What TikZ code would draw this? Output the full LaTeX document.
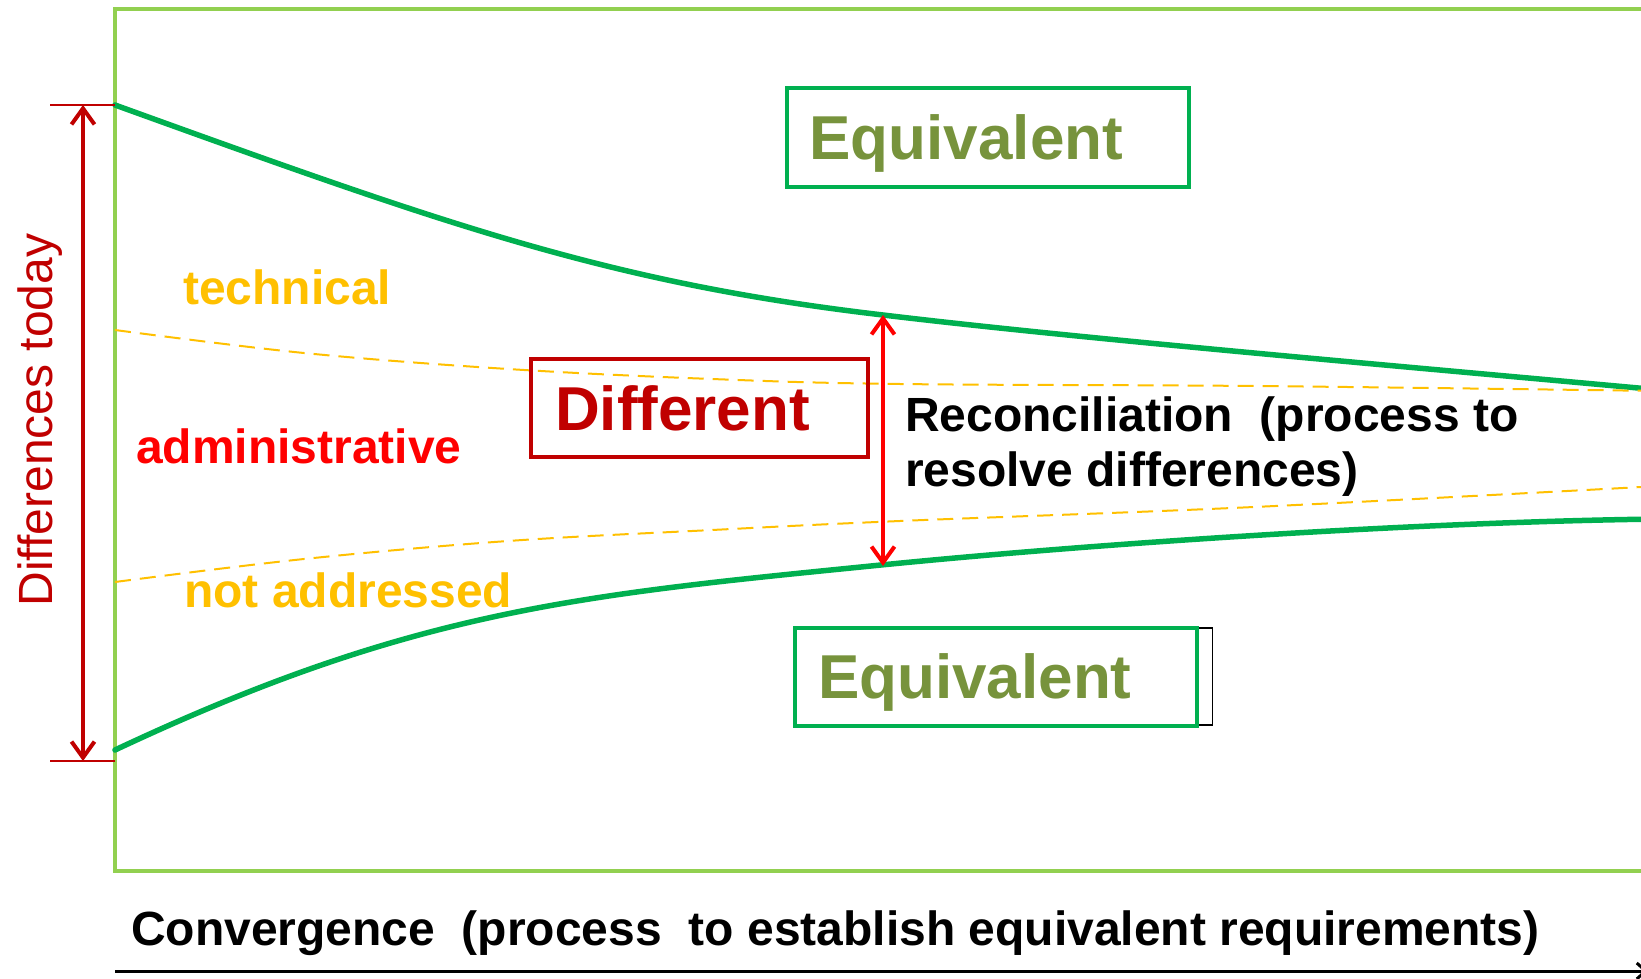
\documentclass[tikz,border=0pt]{standalone}
\usepackage{fontspec}
\setmainfont{Liberation Sans}
\usepackage{tikz}
\usetikzlibrary{arrows.meta}
\definecolor{framegreen}{HTML}{92D050}
\definecolor{eqgreen}{HTML}{00B050}
\definecolor{gold}{HTML}{FFC000}
\definecolor{darkred}{HTML}{C00000}
\definecolor{olive}{HTML}{77933C}

\begin{document}
\begin{tikzpicture}
		[x=1pt,y=-1pt,
		 box/.style={line width=4pt,minimum height=98pt,text depth=0pt,align=left,inner sep=0pt,font=\fontsize{62}{70}\selectfont\bfseries},
		 eqbox/.style={box,draw=eqgreen,fill=white,text=olive,minimum width=402pt,text width=356pt},
		 lbl/.style={inner sep=0pt,anchor=base west,font=\fontsize{48}{55}\selectfont\bfseries},
		 bound/.style={eqgreen,line width=5.5pt,line cap=round},
		 split/.style={gold,line width=2pt,dash pattern=on 16pt off 9pt},
		 barb/.tip={Straight Barb[length=16pt,width=23pt]},
		 span/.style={line width=4pt,barb-barb}]
	\clip (0,0) rectangle (1641,979);
	% frame
	\draw[framegreen,line width=4pt] (1700,9) -- (115,9) -- (115,871) -- (1700,871);
	% convergence curves
	\draw[bound] (115,105) .. controls (450,226) and (610,283) .. (883,315)
		.. controls (1083,339) and (1410,367) .. (1660,390);
	\draw[bound] (115,750) .. controls (415,609) and (581,595) .. (881,565)
		.. controls (1081,545) and (1410,522) .. (1660,519);
	\draw[split] plot[smooth,tension=0.6] coordinates {(115,330) (304,353) (508,369) (712,379) (900,384) (1254,386) (1660,391)};
	\draw[split] plot[smooth,tension=0.6] coordinates {(115,582) (304,559) (508,541) (712,530) (900,521) (1254,507) (1660,486)};
	% boxes
	\node[box,draw=darkred,text=darkred,minimum width=337pt,text width=289pt] (dif) at (699.5,408) {Different};
	\node[draw=black,line width=1.5pt,inner sep=0pt,minimum width=410pt,minimum height=97pt,anchor=east] (eqback) at (1213,676.5) {};
	\node[eqbox] (equp) at (987.5,137.5) {Equivalent};
	\node[eqbox] (eqlow) at (996,676.5) {Equivalent};
	% labels
	\node[lbl,text=gold] (tech) at (183,304) {technical};
	\node[lbl,text=red] (adm) at (136,463) {administrative};
	\node[lbl,text=gold] (nad) at (184,607) {not addressed};
	\node[lbl,anchor=north west,align=left] (rec) at (905,397) {Reconciliation\ \ (process to\\resolve differences)};
	\node[lbl] (conv) at (131,945) {Convergence\ \ (process\ \ to establish equivalent requirements)};
	\node[inner sep=0pt,anchor=base,rotate=90,text=darkred,font=\fontsize{48}{55}\selectfont] (dt) at (52,420) {Differences today};
	% arrows
	\coordinate (lt) at (83,105);
	\coordinate (lb) at (83,761);
	\coordinate (tt) at (50,105);
	\coordinate (tb) at (50,761);
	\coordinate (ft) at (115,105);
	\coordinate (fb) at (115,761);
	\draw[darkred,line width=1.5pt] (tt) -- (ft);
	\draw[darkred,line width=1.5pt] (tb) -- (fb);
	\draw[span,darkred] (lt) -- (lb);
	\coordinate (rt) at (883,315);
	\coordinate (rb) at (883,566);
	\draw[span,red] (rt) -- (rb);
	\coordinate (xs) at (115,971);
	\coordinate (xe) at (1648,971);
	\draw[line width=3pt,-{Straight Barb[length=9pt,width=16pt]}] (xs) -- (xe);
\end{tikzpicture}
\end{document}
